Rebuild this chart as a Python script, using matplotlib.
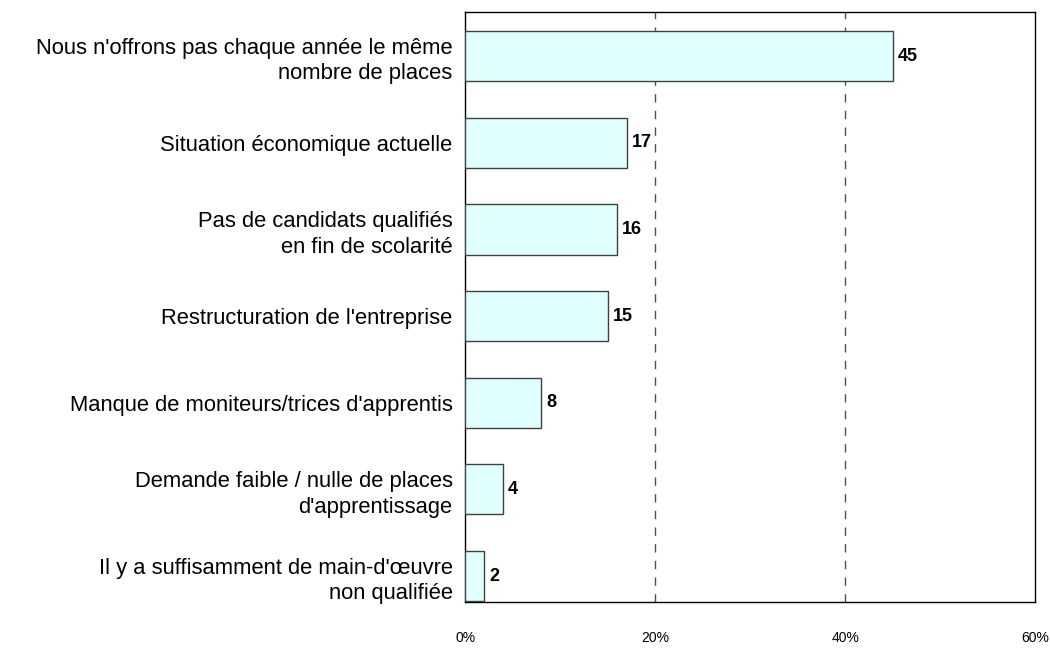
import matplotlib
matplotlib.use("Agg")
import matplotlib.pyplot as plt
import numpy as np

plt.rcParams['font.family'] = ['Liberation Sans', 'DejaVu Sans']

categories = [
    "Nous n'offrons pas chaque année le même\nnombre de places",
    "Situation économique actuelle",
    "Pas de candidats qualifiés\nen fin de scolarité",
    "Restructuration de l'entreprise",
    "Manque de moniteurs/trices d'apprentis",
    "Demande faible / nulle de places\nd'apprentissage",
    "Il y a suffisamment de main-d'œuvre\nnon qualifiée",
]
values = [45, 17, 16, 15, 8, 4, 2]
xticks = [0, 20, 40, 60]
xtick_labels = ["0%", "20%", "40%", "60%"]

fig = plt.figure(figsize=(10.5, 6.48), dpi=100)
ax = fig.add_axes([0.443, 0.071, 0.543, 0.9105])

y = np.arange(len(categories))
ax.barh(y, values, height=0.58, color="#E0FFFF", edgecolor="#404040", linewidth=1, zorder=3)

for yi, v in zip(y, values):
    ax.text(v + 0.5, yi, str(v), va="center", ha="left", fontsize=13, fontweight="bold", zorder=4)

for g in [20, 40]:
    ax.axvline(g, color="#505050", ls=(0, (6, 6)), lw=1, zorder=1)

ax.set_xlim(0, 60)
ax.set_ylim(6.3, -0.51)
ax.set_yticks(y)
ax.set_yticklabels(categories, fontsize=15.8, linespacing=1.3)
ax.set_xticks(xticks)
ax.set_xticklabels(xtick_labels, fontsize=10)
ax.tick_params(axis="both", length=0)
ax.tick_params(axis="x", pad=21)
ax.tick_params(axis="y", pad=9)
for s in ax.spines.values():
    s.set_linewidth(1)
    s.set_color("black")

fig.savefig("out.png", dpi=100)
